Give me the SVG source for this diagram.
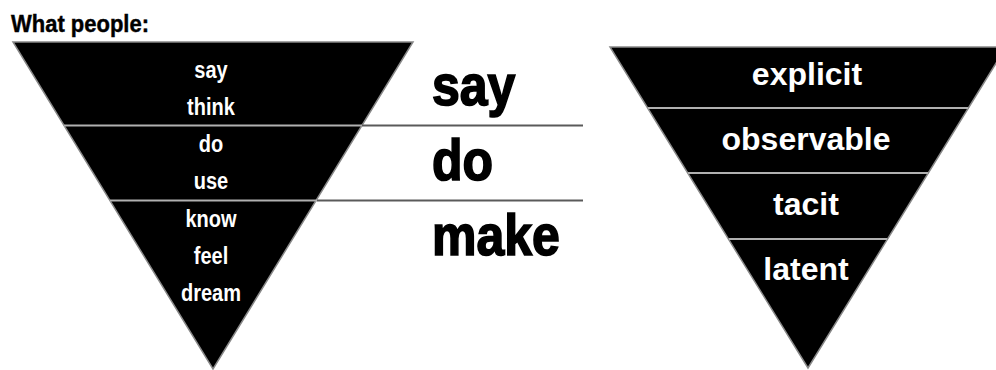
<svg xmlns="http://www.w3.org/2000/svg" width="996" height="370" viewBox="0 0 996 370">
  <style>
    .tri { fill: #000; stroke: #888; stroke-width: 1.5; }
    .div { stroke: #b0b0b0; stroke-width: 2; }
    .conn { stroke: #5a5a5a; stroke-width: 2; fill: none; }
    .t { font-family: "Liberation Sans", Arial, sans-serif; font-weight: bold; }
    .sm { font-size: 20px; fill: #fff; text-anchor: middle; }
    .rt { font-size: 32px; fill: #fff; text-anchor: middle; }
    .big { font-size: 50px; fill: #000; stroke: #000; stroke-width: 1.5; }
    .title { font-size: 22px; fill: #000; stroke: #000; stroke-width: 0.4; }
  </style>
  <rect width="996" height="370" fill="#fff"/>
  <g id="title">
    <text class="t title" transform="translate(11,32) scale(1,1.12)">What people:</text>
  </g>
  <g id="left-pyramid">
    <polygon class="tri" points="13,42 413,42 213,369"/>
    <line class="div" x1="64" y1="125.5" x2="362" y2="125.5"/>
    <line class="div" x1="110" y1="200.5" x2="317" y2="200.5"/>
    <g class="t sm">
      <text transform="translate(211,78) scale(1,1.15)">say</text>
      <text transform="translate(211,115) scale(1,1.15)">think</text>
      <text transform="translate(211,152) scale(1,1.15)">do</text>
      <text transform="translate(211,189) scale(1,1.15)">use</text>
      <text transform="translate(211,227) scale(1,1.15)">know</text>
      <text transform="translate(211,264) scale(1,1.15)">feel</text>
      <text transform="translate(211,301) scale(1,1.15)">dream</text>
    </g>
  </g>
  <g id="connectors">
    <line class="conn" x1="362" y1="125.5" x2="583" y2="125.5"/>
    <line class="conn" x1="317" y1="200.5" x2="583" y2="200.5"/>
  </g>
  <g id="say-do-make" class="t big">
    <text transform="translate(432,105) scale(1,1.15)">say</text>
    <text transform="translate(432,180) scale(1,1.15)">do</text>
    <text transform="translate(432,255) scale(1,1.15)">make</text>
  </g>
  <g id="right-pyramid">
    <polygon class="tri" points="610,47 1006,47 808,368"/>
    <line class="div" x1="648" y1="108" x2="968" y2="108"/>
    <line class="div" x1="688" y1="173" x2="928" y2="173"/>
    <line class="div" x1="729" y1="239" x2="887" y2="239"/>
    <g class="t rt">
      <text x="807" y="85">explicit</text>
      <text x="806" y="150">observable</text>
      <text x="806" y="215">tacit</text>
      <text x="806" y="280">latent</text>
    </g>
  </g>
</svg>
